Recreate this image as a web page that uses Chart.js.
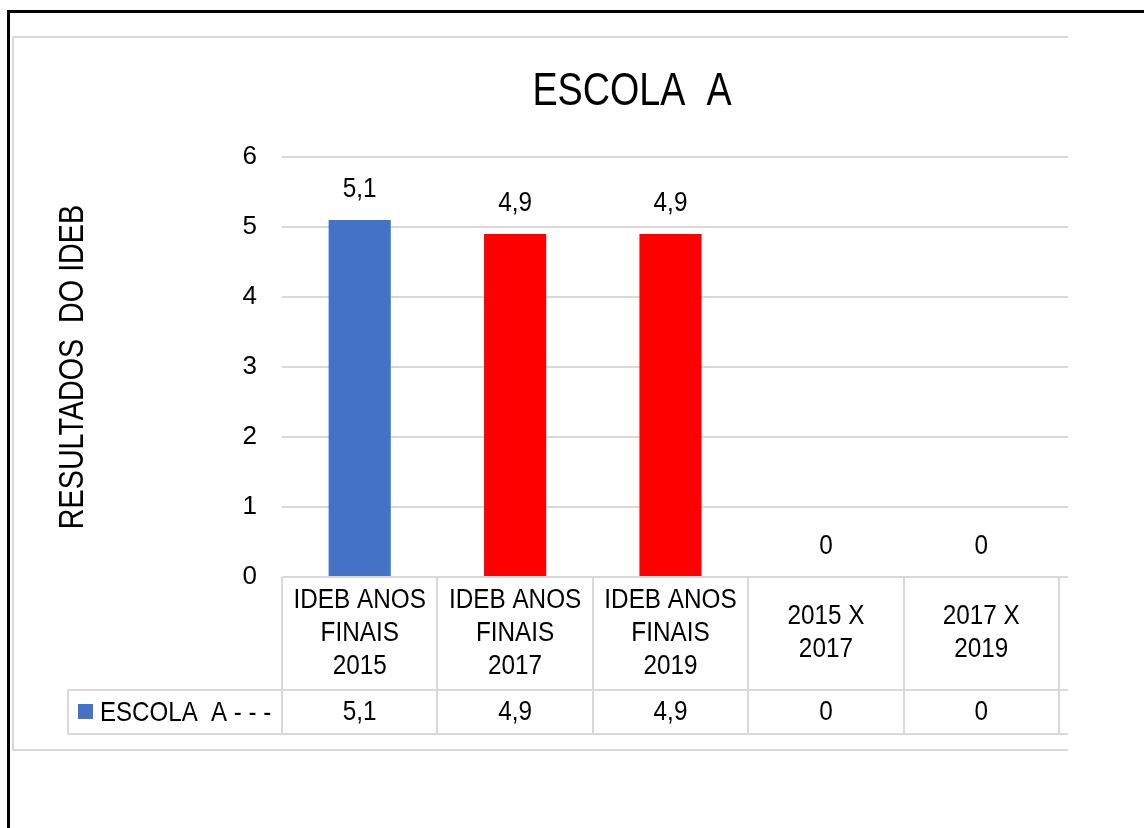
<!DOCTYPE html>
<html>
<head>
<meta charset="utf-8">
<script src="https://cdn.jsdelivr.net/npm/chart.js@4.4.0/dist/chart.umd.min.js"></script>
<style>
html,body{margin:0;padding:0;background:#fff;width:1144px;height:828px;overflow:hidden;}
#frame{position:absolute;left:7px;top:10px;width:1300px;height:1000px;border-top:3px solid #000;border-left:3px solid #000;}
#box{position:absolute;left:12px;top:36px;width:1054px;height:711px;border:2px solid #d9d9d9;border-right:none;}
#wrap{position:absolute;left:0;top:0;width:1068px;height:828px;}
</style>
</head>
<body>
<div id="frame"></div>
<div id="box"></div>
<div id="wrap"><canvas id="c"></canvas></div>
<script>
// ---- data ----
const chartTitle = 'ESCOLA  A';
const yAxisTitle = 'RESULTADOS  DO IDEB';
const seriesName = 'ESCOLA  A - - -';
const categories = [
  ['IDEB ANOS', 'FINAIS', '2015'],
  ['IDEB ANOS', 'FINAIS', '2017'],
  ['IDEB ANOS', 'FINAIS', '2019'],
  ['2015 X', '2017'],
  ['2017 X', '2019']
];
const values = [5.1, 4.9, 4.9, 0, 0];
const yMin = 0, yMax = 6, yStep = 1;

// ---- styles ----
const FONT = '"Liberation Sans",Arial,sans-serif';
const BLUE = '#4472C4', RED = '#FF0000', GRID = '#d9d9d9', TEXT = '#000';
const fmt = v => String(v).replace('.', ',');

// text drawn with horizontal condensing (reference uses a narrow face)
function txt(ctx, s, x, y, size, k, align, rot) {
  ctx.save();
  ctx.translate(x, y);
  if (rot) ctx.rotate(rot);
  ctx.scale(k, 1);
  ctx.font = size + 'px ' + FONT;
  ctx.textAlign = align || 'center';
  ctx.textBaseline = 'middle';
  ctx.fillStyle = TEXT;
  ctx.fillText(s, 0, 0);
  ctx.restore();
}

const tablePlugin = {
  id: 'tablePlugin',
  afterDraw(chart) {
    const {ctx, chartArea} = chart;
    const xs = chart.scales.x, ys = chart.scales.y;
    const W = chart.width;
    const rowTop = chartArea.bottom + 113;
    const rowBottom = rowTop + 44;
    const legendLeft = 68;
    ctx.save();
    // chart title
    txt(ctx, chartTitle, 632, 92, 46, 0.82);
    // y axis title
    txt(ctx, yAxisTitle, 73, (chartArea.top + chartArea.bottom) / 2, 35, 0.82, 'center', -Math.PI / 2);
    // extend grid lines to the right edge
    ctx.strokeStyle = GRID;
    ctx.lineWidth = 2;
    ys.ticks.forEach(t => {
      const y = Math.round(ys.getPixelForValue(t.value));
      ctx.beginPath(); ctx.moveTo(chartArea.right - 1, y); ctx.lineTo(W, y); ctx.stroke();
    });
    // table vertical lines
    for (let i = 0; i <= categories.length; i++) {
      const bx = Math.round(xs.getPixelForValue(i - 0.5));
      ctx.beginPath(); ctx.moveTo(bx, chartArea.bottom); ctx.lineTo(bx, rowBottom); ctx.stroke();
    }
    // legend cell
    ctx.beginPath(); ctx.moveTo(legendLeft, rowTop); ctx.lineTo(legendLeft, rowBottom); ctx.stroke();
    ctx.beginPath(); ctx.moveTo(legendLeft, rowTop); ctx.lineTo(W, rowTop); ctx.stroke();
    ctx.beginPath(); ctx.moveTo(legendLeft, rowBottom); ctx.lineTo(W, rowBottom); ctx.stroke();
    const rowMid = (rowTop + rowBottom) / 2;
    ctx.fillStyle = BLUE;
    ctx.fillRect(legendLeft + 10, rowMid - 8, 15, 15);
    txt(ctx, seriesName, legendLeft + 32, rowMid + 1, 28, 0.86, 'left');
    // category labels (header row of the data table)
    const headMid = (chartArea.bottom + rowTop) / 2;
    const lh = 33;
    categories.forEach((lines, i) => {
      const cx = xs.getPixelForValue(i);
      const y0 = headMid - (lines.length - 1) * lh / 2;
      lines.forEach((ln, j) => txt(ctx, ln, cx, y0 + j * lh, 27, 0.9));
    });
    // table values
    values.forEach((v, i) => txt(ctx, fmt(v), xs.getPixelForValue(i), rowMid + 1, 27, 0.9));
    // data labels above bars
    const meta = chart.getDatasetMeta(0);
    meta.data.forEach((el, i) => txt(ctx, fmt(values[i]), el.x, el.y - 30, 27, 0.9));
    ctx.restore();
  }
};

new Chart(document.getElementById('c'), {
  type: 'bar',
  data: {
    labels: categories,
    datasets: [{
      label: seriesName,
      data: values,
      backgroundColor: [BLUE, RED, RED, RED, RED],
      borderWidth: 0,
      barPercentage: 0.4,
      categoryPercentage: 1
    }]
  },
  options: {
    responsive: true,
    maintainAspectRatio: false,
    animation: false,
    layout: {padding: {left: 13, top: 157, right: 9, bottom: 0}},
    plugins: {legend: {display: false}, tooltip: {enabled: false}, title: {display: false}},
    scales: {
      x: {
        offset: true,
        grid: {display: false, drawTicks: false},
        border: {display: false},
        ticks: {display: false},
        afterFit: s => { s.height = 251; }
      },
      y: {
        min: yMin, max: yMax,
        ticks: {stepSize: yStep, font: {family: FONT, size: 26}, color: TEXT, padding: 25},
        grid: {color: GRID, lineWidth: 2, drawTicks: false},
        border: {display: false},
        afterFit: s => { s.width = 269; }
      }
    }
  },
  plugins: [tablePlugin]
});
</script>
</body>
</html>
